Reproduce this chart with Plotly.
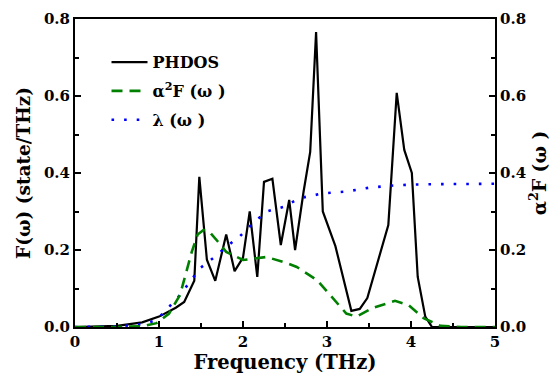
import plotly.graph_objects as go

# PHDOS F(omega)
ph_f = [0.0, 0.3, 0.5, 0.8, 1.0, 1.2, 1.3, 1.42, 1.48, 1.57, 1.67, 1.8, 1.9, 2.0, 2.08, 2.17,
        2.25, 2.35, 2.45, 2.55, 2.62, 2.72, 2.8, 2.87, 2.95, 3.1, 3.2, 3.29, 3.39, 3.48,
        3.73, 3.83, 3.92, 4.01, 4.08, 4.17, 4.25, 4.5, 5.0]
ph_v = [0.0, 0.001, 0.003, 0.012, 0.027, 0.05, 0.065, 0.12, 0.39, 0.175, 0.12, 0.24, 0.145, 0.18,
        0.30, 0.13, 0.377, 0.385, 0.213, 0.33, 0.20, 0.35, 0.455, 0.766, 0.30, 0.21, 0.12, 0.042,
        0.047, 0.075, 0.265, 0.608, 0.46, 0.40, 0.13, 0.027, 0.0, 0.0, 0.0]

# alpha^2 F(omega)
a2_f = [0.0, 0.5, 0.8, 0.97, 1.12, 1.25, 1.39, 1.46, 1.53, 1.61, 1.7, 1.8, 2.0, 2.28, 2.52,
        2.64, 2.88, 3.04, 3.23, 3.35, 3.55, 3.81, 3.97, 4.15, 4.35, 4.6, 5.0]
a2_v = [0.0, 0.0, 0.002, 0.01, 0.035, 0.083, 0.195, 0.24, 0.252, 0.245, 0.222, 0.195, 0.174,
        0.182, 0.166, 0.156, 0.122, 0.083, 0.035, 0.027, 0.05, 0.068, 0.057, 0.023, 0.003, 0.0, 0.0]

# lambda(omega)
la_f = [0.0, 0.5, 0.81, 0.97, 1.11, 1.25, 1.37, 1.49, 1.65, 1.81, 1.96, 2.12, 2.28, 2.48,
        2.68, 2.95, 3.23, 3.51, 3.75, 4.02, 4.3, 5.0]
la_v = [0.0, 0.001, 0.008, 0.018, 0.05, 0.083, 0.118, 0.153, 0.18, 0.21, 0.235, 0.27, 0.30,
        0.312, 0.335, 0.347, 0.352, 0.362, 0.367, 0.370, 0.371, 0.372]

x_ticks = [0, 1, 2, 3, 4, 5]
y_ticks = [0.0, 0.2, 0.4, 0.6, 0.8]
y_ticklabels = ["0.0", "0.2", "0.4", "0.6", "0.8"]

FONT = "DejaVu Serif"

fig = go.Figure()
fig.add_trace(go.Scatter(x=ph_f, y=ph_v, mode="lines", name="<b>PHDOS</b>", legendgroup="g1",
                         line=dict(color="black", width=2.2)))
fig.add_trace(go.Scatter(x=a2_f, y=a2_v, mode="lines", name="<b>α<sup>2</sup>F (ω )</b>", legendgroup="g2",
                         line=dict(color="#008000", width=2.6, dash="11px,7px"), yaxis="y2"))
fig.add_trace(go.Scatter(x=la_f, y=la_v, mode="lines", name="<b>λ (ω )</b>", legendgroup="g3",
                         line=dict(color="#0000ff", width=2.6, dash="2.6px,10px")))

axis_common = dict(showline=True, linecolor="black", linewidth=2, ticks="inside",
                   tickwidth=1.5, ticklen=6, tickcolor="black", showgrid=False,
                   zeroline=False, automargin=False,
                   tickfont=dict(family=FONT, size=15, color="black"))
minor_common = dict(ticks="inside", ticklen=4, tickcolor="black", tickwidth=1.5)

fig.update_layout(
    width=556, height=377,
    margin=dict(l=75, r=61, t=19, b=50),
    paper_bgcolor="white", plot_bgcolor="white",
    font=dict(family=FONT, color="black"),
    showlegend=True,
    legend=dict(x=0.075, y=0.915, xanchor="left", yanchor="top", traceorder="grouped",
                font=dict(family=FONT, size=16, color="black"),
                bgcolor="rgba(0,0,0,0)", tracegroupgap=5, itemwidth=36),
    xaxis=dict(range=[0, 5], tickvals=x_ticks, ticktext=["<b>%d</b>" % v for v in x_ticks], mirror=True,
               minor=dict(dtick=0.5, **minor_common),
               title=dict(text="<b>Frequency (THz)</b>",
                          font=dict(family=FONT, size=19.5, color="black"),
                          standoff=4),
               **axis_common),
    yaxis=dict(range=[0, 0.8], tickvals=y_ticks, ticktext=["<b>%s</b>" % t for t in y_ticklabels], mirror=True,
               minor=dict(dtick=0.1, **minor_common),
               title=dict(text="<b>F(ω) (state/THz)</b>",
                          font=dict(family=FONT, size=18.5, color="black"),
                          standoff=8),
               **axis_common),
    yaxis2=dict(range=[0, 0.8], tickvals=y_ticks, ticktext=["<b>%s</b>" % t for t in y_ticklabels],
                overlaying="y", side="right",
                minor=dict(dtick=0.1, **minor_common),
                title=dict(text="<b>α<sup>2</sup>F (ω )</b>",
                           font=dict(family=FONT, size=18.5, color="black"),
                           standoff=8),
                **axis_common),
)

fig.write_html("out.html")
